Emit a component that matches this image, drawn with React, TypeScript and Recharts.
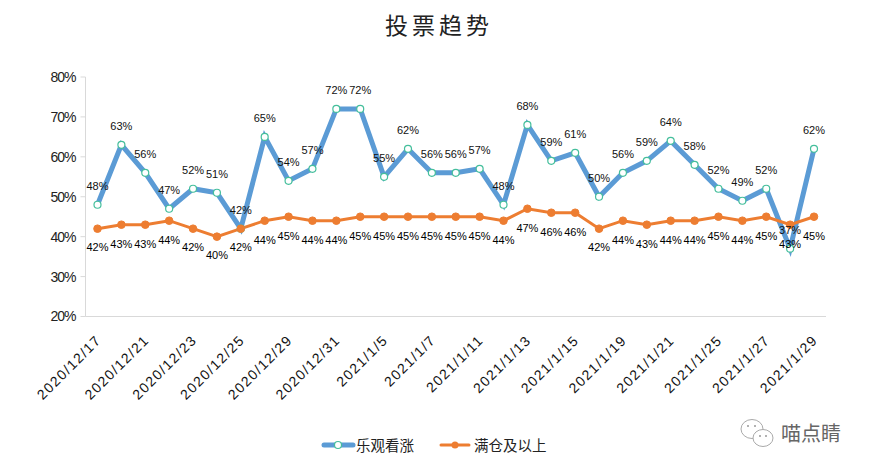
import React from 'react';
import { LineChart, Line, XAxis, YAxis, LabelList, Legend } from 'recharts';

const dates = ['2020/12/17','2020/12/18','2020/12/21','2020/12/22','2020/12/23','2020/12/24','2020/12/25','2020/12/28','2020/12/29','2020/12/30','2020/12/31','2021/1/4','2021/1/5','2021/1/6','2021/1/7','2021/1/8','2021/1/11','2021/1/12','2021/1/13','2021/1/14','2021/1/15','2021/1/18','2021/1/19','2021/1/20','2021/1/21','2021/1/22','2021/1/25','2021/1/26','2021/1/27','2021/1/28','2021/1/29'];
const bullish = [48,63,56,47,52,51,42,65,54,57,72,72,55,62,56,56,57,48,68,59,61,50,56,59,64,58,52,49,52,37,62];
const fullPosition = [42,43,43,44,42,40,42,44,45,44,44,45,45,45,45,45,45,44,47,46,46,42,44,43,44,44,45,44,45,43,45];
const yTicks = [20,30,40,50,60,70,80];
const seriesNames = ['乐观看涨','满仓及以上'];
const title = '投票趋势';
const watermark = '喵点睛';

const data = dates.map((d, i) => ({ date: d, bullish: bullish[i], full: fullPosition[i] }));
const pct = (v: number) => `${v}%`;
const SANS = '"Liberation Sans", Arial, sans-serif';
const CJK = '"Noto Sans CJK SC", sans-serif';

const XTick = ({ x, y, payload }: any) => (
  <text x={x + 2} y={y + 14} transform={`rotate(-45 ${x + 2} ${y + 14})`} textAnchor="end" dominantBaseline="middle"
    fontFamily={SANS} fontSize={14} fill="#111" letterSpacing={1.4}>{payload.value}</text>
);

const LegendContent = () => (
  <div style={{ position: 'relative', width: 871, height: 24, fontFamily: CJK, fontSize: 14.5, color: '#222' }}>
    <svg width={871} height={24} style={{ position: 'absolute', left: 0, top: 0 }}>
      <line x1={324} x2={353} y1={12} y2={12} stroke="#5b9bd5" strokeWidth={5} strokeLinecap="round" />
      <circle cx={338} cy={12} r={3.5} fill="#fff" stroke="#45bf9c" strokeWidth={1.2} />
      <line x1={441} x2={469} y1={12} y2={12} stroke="#ed7d31" strokeWidth={3} strokeLinecap="round" />
      <circle cx={455} cy={12} r={3.5} fill="#ed7d31" />
    </svg>
    <span style={{ position: 'absolute', left: 356, top: 2, lineHeight: '20px' }}>{seriesNames[0]}</span>
    <span style={{ position: 'absolute', left: 474, top: 2, lineHeight: '20px' }}>{seriesNames[1]}</span>
  </div>
);

export default function App() {
  return (
    <div style={{ position: 'absolute', left: 0, top: 0, width: 871, height: 472, background: '#fff', overflow: 'hidden' }}>
      <div style={{ position: 'absolute', left: 385, top: 7, fontFamily: CJK, fontSize: 23, letterSpacing: 4, color: '#222', lineHeight: '34px', whiteSpace: 'nowrap' }}>{title}</div>
      <LineChart width={871} height={472} data={data} margin={{ top: 77, right: 45, bottom: 41.5, left: 0 }}>
        <YAxis width={85.5} domain={[20, 80]} ticks={yTicks} tickFormatter={pct} interval={0}
          axisLine={{ stroke: '#d9d9d9' }} tickLine={{ stroke: '#d9d9d9' }} tickSize={5} tickMargin={5}
          tick={{ fontFamily: SANS, fontSize: 14, fill: '#222', letterSpacing: -1 }} />
        <XAxis dataKey="date" interval={1} padding={{ left: 12, right: 12 }} axisLine={{ stroke: '#d9d9d9' }} tickLine={false} height={90} tick={<XTick />} />
        <Legend verticalAlign="bottom" content={<LegendContent />} wrapperStyle={{ position: 'absolute', left: 0, top: 433, width: 871, height: 24, bottom: 'auto' }} />
        <Line dataKey="bullish" name={seriesNames[0]} stroke="#5b9bd5" strokeWidth={5} isAnimationActive={false}
          dot={{ r: 3.5, fill: '#fff', stroke: '#45bf9c', strokeWidth: 1.2 }}>
          <LabelList dataKey="bullish" position="top" offset={14.5} formatter={pct} style={{ fontFamily: SANS, fontSize: 11, fill: '#111' }} />
        </Line>
        <Line dataKey="full" name={seriesNames[1]} stroke="#ed7d31" strokeWidth={3} isAnimationActive={false}
          dot={{ r: 3.8, fill: '#ed7d31', stroke: '#ed7d31', strokeWidth: 1 }}>
          <LabelList dataKey="full" position="bottom" offset={15} formatter={pct} style={{ fontFamily: SANS, fontSize: 11, fill: '#000' }} />
        </Line>
      </LineChart>
      <svg width={36} height={32} viewBox="0 0 36 32" style={{ position: 'absolute', left: 739, top: 418 }}>
        <ellipse cx={13} cy={11} rx={11} ry={9.5} fill="#fff" stroke="#aaa" strokeWidth={1} />
        <ellipse cx={24} cy={20} rx={10} ry={8.5} fill="#fff" stroke="#aaa" strokeWidth={1} />
        <circle cx={9} cy={8} r={1} fill="#999" /><circle cx={16} cy={8} r={1} fill="#999" />
        <circle cx={21} cy={18} r={1} fill="#999" /><circle cx={27} cy={18} r={1} fill="#999" />
      </svg>
      <div style={{ position: 'absolute', left: 781, top: 420, fontFamily: CJK, fontSize: 20, color: '#666', lineHeight: '26px', whiteSpace: 'nowrap' }}>{watermark}</div>
    </div>
  );
}
